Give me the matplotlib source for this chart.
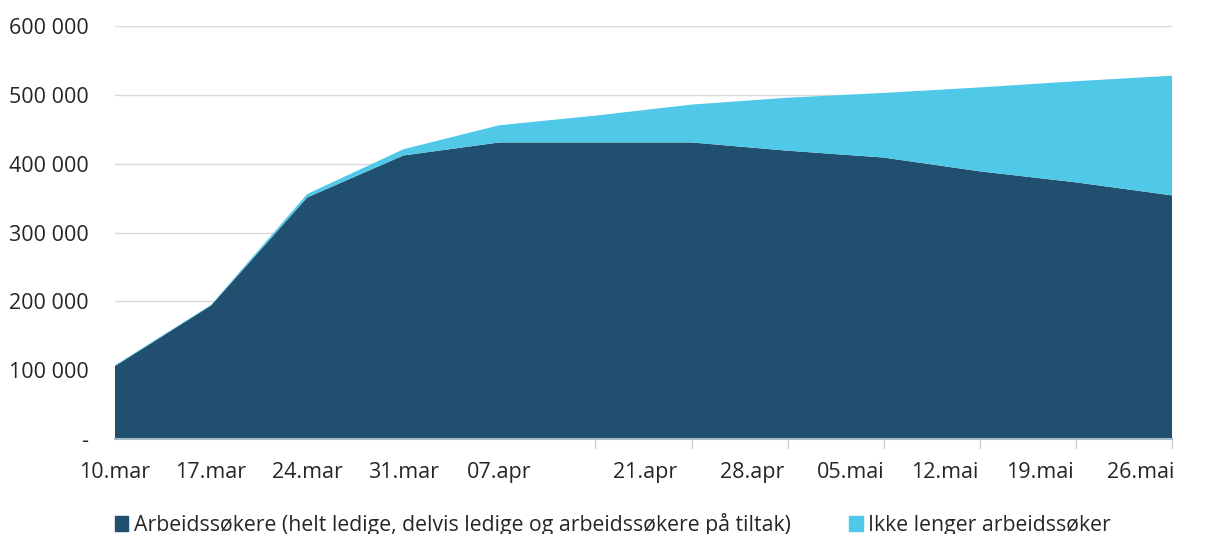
import numpy as np
import matplotlib
matplotlib.use("Agg")
from matplotlib import pyplot as plt
from matplotlib.patches import Patch

plt.rcParams['font.family'] = ['Open Sans', 'DejaVu Sans']

# weekly data, thousands of persons
weeks = ['10.mar', '17.mar', '24.mar', '31.mar', '07.apr', '14.apr',
         '21.apr', '28.apr', '05.mai', '12.mai', '19.mai', '26.mai']
arbeidssokere = [106, 194, 351, 412, 431, 431, 431, 419, 409, 389, 373, 354]
ikke_lenger = [1, 1, 5, 9, 25, 39, 55, 77, 94, 122, 147, 174]

# the chart shows only 11 labels (14.apr has none), placed like the original
shown_labels = ['10.mar', '17.mar', '24.mar', '31.mar', '07.apr', '21.apr',
                '28.apr', '05.mai', '12.mai', '19.mai', '26.mai']
label_pos = [0, 1, 2, 3, 4, 5.52, 6.63, 7.66, 8.64, 9.63, 10.67]

dark = '#214f6f'
light = '#4fc9e7'
txt = '#262626'
fs = 15.5

x = np.arange(len(weeks))
a = np.array(arbeidssokere) * 1000
b = np.array(ikke_lenger) * 1000

fig = plt.figure(figsize=(12.08, 5.34), dpi=100)
ax = fig.add_axes([0.0952, 0.178, 0.875, 0.773])

ax.stackplot(x, a, b, colors=[dark, light], linewidth=0, zorder=2)

ax.set_xlim(0, len(weeks) - 1)
ax.set_ylim(0, 600000)
ax.set_yticks(np.arange(0, 600001, 100000))
ax.set_yticklabels(['-'] + ['{:,}'.format(v).replace(',', ' ')
                            for v in range(100000, 600001, 100000)])
ax.grid(axis='y', color='#d9d9d9', linewidth=1, zorder=0)
ax.set_axisbelow(True)

# tick marks at every week, labels placed separately
ax.set_xticks(x, minor=True)
ax.set_xticks(label_pos)
ax.set_xticklabels(shown_labels)
ax.tick_params(axis='x', which='major', length=0, pad=16.5, labelsize=fs, labelcolor=txt)
ax.tick_params(axis='x', which='minor', length=7, color='#d0d0d0', width=1)
ax.tick_params(axis='y', length=0, pad=19, labelsize=fs, labelcolor=txt)

for s in ['top', 'right', 'left']:
    ax.spines[s].set_visible(False)
ax.spines['bottom'].set_color('#a9bccb')
ax.spines['bottom'].set_linewidth(1.5)
ax.spines['bottom'].set_zorder(3)

handles = [Patch(color=dark, label='Arbeidssøkere (helt ledige, delvis ledige og arbeidssøkere på tiltak)'),
           Patch(color=light, label='Ikke lenger arbeidssøker')]
fig.legend(handles=handles, loc='center left', bbox_to_anchor=(0.079, 0.018), ncol=2,
           frameon=False, fontsize=15.3, handlelength=0.65, handleheight=0.65,
           handletextpad=0.25, columnspacing=2.75, labelcolor=txt)

fig.savefig('out.png', dpi=100)
